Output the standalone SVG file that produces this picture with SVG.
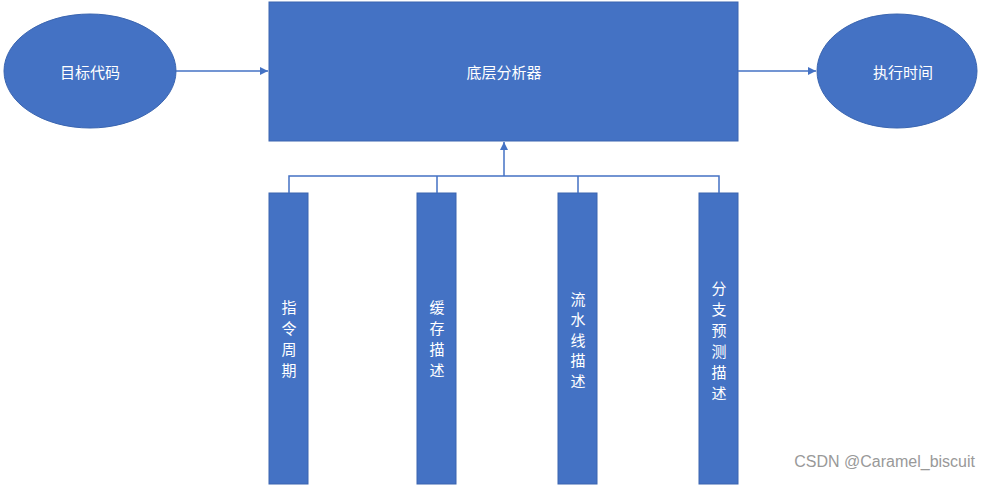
<svg xmlns="http://www.w3.org/2000/svg" width="992" height="485" viewBox="0 0 992 485">
<style>
.n{fill:#4472C4;stroke:#3A65B0;stroke-width:1}
.t{font-family:"Noto Sans CJK SC","Liberation Sans",sans-serif;font-size:15px;fill:#fff;text-anchor:middle;dominant-baseline:central}
.c{fill:none;stroke:#4472C4;stroke-width:1.5}
</style>
<defs><marker id="a" viewBox="0 0 10 10" refX="10" refY="5" markerWidth="8" markerHeight="8" orient="auto" markerUnits="userSpaceOnUse"><path d="M0,0L10,5L0,10z" fill="#4472C4"/></marker></defs>
<rect width="992" height="485" fill="#fff"/>
<g id="src"><ellipse class="n" cx="90" cy="71" rx="86" ry="57"/><text class="t" x="90" y="71">目标代码</text></g>
<g id="ana"><rect class="n" x="269" y="2" width="469" height="139"/><text class="t" x="504" y="71">底层分析器</text></g>
<g id="out"><ellipse class="n" cx="897" cy="71" rx="80" ry="57"/><text class="t" x="903" y="71">执行时间</text></g>
<g id="b1"><rect class="n" x="269" y="193" width="39" height="291"/><text class="t" x="289"><tspan x="289" y="306">指</tspan><tspan x="289" y="327">令</tspan><tspan x="289" y="348">周</tspan><tspan x="289" y="369">期</tspan></text></g>
<g id="b2"><rect class="n" x="417" y="193" width="39" height="291"/><text class="t"><tspan x="437" y="306">缓</tspan><tspan x="437" y="327">存</tspan><tspan x="437" y="348">描</tspan><tspan x="437" y="369">述</tspan></text></g>
<g id="b3"><rect class="n" x="558" y="193" width="39" height="291"/><text class="t"><tspan x="578" y="298">流</tspan><tspan x="578" y="318">水</tspan><tspan x="578" y="339">线</tspan><tspan x="578" y="359">描</tspan><tspan x="578" y="380">述</tspan></text></g>
<g id="b4"><rect class="n" x="699" y="193" width="39" height="291"/><text class="t"><tspan x="719" y="287">分</tspan><tspan x="719" y="308">支</tspan><tspan x="719" y="329">预</tspan><tspan x="719" y="350">测</tspan><tspan x="719" y="371">描</tspan><tspan x="719" y="392">述</tspan></text></g>
<g id="edges">
<path class="c" d="M176,71H268" marker-end="url(#a)"/>
<path class="c" d="M738,71H816" marker-end="url(#a)"/>
<path class="c" d="M289,193V176H719V193M437,193V176M578,193V176"/>
<path class="c" d="M504,176V142" marker-end="url(#a)"/>
</g>
<text x="975" y="467" text-anchor="end" style="font-family:'Liberation Sans',sans-serif;font-size:16px;fill:#999">CSDN @Caramel_biscuit</text>
</svg>
